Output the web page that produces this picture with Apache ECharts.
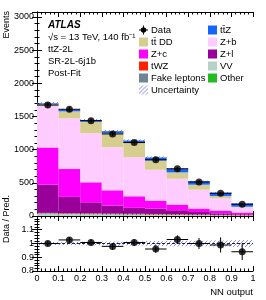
<!DOCTYPE html>
<html><head><meta charset="utf-8">
<script src="https://cdn.jsdelivr.net/npm/echarts@6/dist/echarts.min.js"></script>
<style>html,body{margin:0;padding:0;background:#fff}#c{width:266px;height:300px}</style>
</head><body><div id="c"></div>
<script>
// ---- data ----
const binLow  = [0.0, 0.1, 0.2, 0.3, 0.4, 0.5, 0.6, 0.7, 0.8, 0.9];
const binHigh = [0.1, 0.2, 0.3, 0.4, 0.5, 0.6, 0.7, 0.8, 0.9, 1.0];
const categories = ['0-0.1','0.1-0.2','0.2-0.3','0.3-0.4','0.4-0.5','0.5-0.6','0.6-0.7','0.7-0.8','0.8-0.9','0.9-1'];
const VV    = [35, 30, 28, 25, 22, 20, 17, 14, 10, 7];
const Other = [4, 4, 4, 3, 3, 3, 3, 2, 2, 2];
const Fake  = [4, 4, 3, 3, 3, 2, 2, 2, 1, 1];
const tWZ   = [4, 5, 6, 6, 6, 6, 6, 6, 5, 5];
const Zl    = [425, 245, 166, 121, 89, 81, 59, 36, 22, 10];
const Zc    = [560, 420, 300, 229, 174, 120, 85, 52, 42, 27];
const Zb    = [630, 765, 741, 651, 591, 465, 390, 285, 185, 80];
const ttDD  = [21, 105, 172, 210, 219, 140, 95, 75, 35, 8];
const ttZ   = [15, 20, 25, 30, 30, 45, 50, 50, 50, 50];
const dataVals = [1672, 1608, 1437, 1237, 1107, 847, 712, 513, 342, 177];
const dataErr  = [41, 40, 38, 35, 33, 29, 27, 23, 18, 13];
const ratioVals = [1.000, 1.026, 1.007, 0.979, 1.007, 0.960, 1.029, 1.000, 0.989, 0.940];
const ratioErr  = [0.020, 0.020, 0.022, 0.024, 0.025, 0.027, 0.030, 0.040, 0.055, 0.060];
const relUnc    = [0.012, 0.012, 0.013, 0.014, 0.015, 0.018, 0.020, 0.020, 0.022, 0.025];
const yTicksMain = [0, 500, 1000, 1500, 2000, 2500, 3000];
const yTicksRatio = [0.8, 0.9, 1, 1.1];

// ---- helpers ----
const FONT = 'Liberation Sans, Arial, Helvetica, sans-serif';
function hatch(){
  const c = document.createElement('canvas'); c.width = 4; c.height = 4;
  const g = c.getContext('2d');
  g.strokeStyle = 'rgba(80,80,255,0.85)'; g.lineWidth = 0.8;
  g.beginPath(); g.moveTo(0,4); g.lineTo(4,0); g.moveTo(-1,1); g.lineTo(1,-1); g.moveTo(3,5); g.lineTo(5,3); g.stroke();
  return {image: c, repeat: 'repeat'};
}
const pat = hatch();
const series = [];
const comps = [
  ['VV', VV, '#b5d2c8'], ['Other', Other, '#22bb22'], ['Fake leptons', Fake, '#6f8596'],
  ['tWZ', tWZ, '#ff2200'], ['Z+l', Zl, '#990099'], ['Z+c', Zc, '#ff00ff'],
  ['Z+b', Zb, '#ffccff'], ['tt\u0304 DD', ttDD, '#d5ce8e'], ['tt\u0304Z', ttZ, '#1464ff']
];
comps.forEach(c => series.push({
  name: c[0], type: 'bar', stack: 'bkg', data: c[1], xAxisIndex: 0, yAxisIndex: 0,
  barWidth: '100%', barCategoryGap: '0%', itemStyle: {color: c[2]}, silent: true, z: 2
}));
const total = categories.map((_, i) => comps.reduce((s, c) => s + c[1][i], 0));

function bandRender(params, api){
  const p0 = api.coord([api.value(0), api.value(3)]);
  const p1 = api.coord([api.value(1), api.value(2)]);
  return {type: 'rect', shape: {x: p0[0], y: p0[1], width: p1[0]-p0[0], height: p1[1]-p0[1]},
          style: {fill: pat}};
}
function errRender(params, api){
  const xl = api.value(0), xh = api.value(1), y = api.value(2), e = api.value(3);
  const xc = (xl + xh) / 2;
  const a = api.coord([xl, y]), b = api.coord([xh, y]);
  const c = api.coord([xc, y - e]), d = api.coord([xc, y + e]);
  const st = {stroke: '#000', lineWidth: 1};
  return {type: 'group', children: [
    {type: 'line', shape: {x1: a[0], y1: a[1], x2: b[0], y2: b[1]}, style: st},
    {type: 'line', shape: {x1: c[0], y1: c[1], x2: d[0], y2: d[1]}, style: st}
  ]};
}
series.push({
  name: 'Uncertainty', type: 'custom', xAxisIndex: 1, yAxisIndex: 0, renderItem: bandRender, z: 3, silent: true,
  itemStyle: {color: pat},
  data: binLow.map((l, i) => [l, binHigh[i], total[i]*(1-relUnc[i]), total[i]*(1+relUnc[i])])
});
series.push({
  name: 'Uncertainty', type: 'custom', xAxisIndex: 3, yAxisIndex: 2, renderItem: bandRender, z: 3, silent: true,
  itemStyle: {color: pat},
  data: binLow.map((l, i) => [l, binHigh[i], 1 - relUnc[i], 1 + relUnc[i]]),
  markLine: {silent: true, symbol: 'none', label: {show: false},
    lineStyle: {color: '#223', type: [3, 2], width: 1}, data: [{yAxis: 1}]}
});
series.push({
  name: 'Data', type: 'custom', xAxisIndex: 1, yAxisIndex: 0, renderItem: errRender, z: 5, silent: true,
  itemStyle: {color: '#000'},
  data: binLow.map((l, i) => [l, binHigh[i], dataVals[i], dataErr[i]])
});
series.push({
  name: 'Data', type: 'custom', xAxisIndex: 3, yAxisIndex: 2, renderItem: errRender, z: 5, silent: true,
  itemStyle: {color: '#000'},
  data: binLow.map((l, i) => [l, binHigh[i], ratioVals[i], ratioErr[i]])
});
series.push({
  name: 'Data', type: 'scatter', xAxisIndex: 1, yAxisIndex: 0, symbol: 'circle', symbolSize: 7, z: 6, silent: true,
  itemStyle: {color: '#000'},
  data: binLow.map((l, i) => [(l + binHigh[i]) / 2, dataVals[i]])
});
series.push({
  name: 'Data', type: 'scatter', xAxisIndex: 3, yAxisIndex: 2, symbol: 'circle', symbolSize: 7, z: 6, silent: true,
  itemStyle: {color: '#000'},
  data: binLow.map((l, i) => [(l + binHigh[i]) / 2, ratioVals[i]])
});

const lineS = {show: true, lineStyle: {color: '#000', width: 1}};
const tickS = {show: true, inside: true, length: 5, lineStyle: {color: '#000'}};
const minorS = {show: true, splitNumber: 5, length: 2.5, lineStyle: {color: '#000'}};
const lblS = {fontSize: 9, color: '#000', fontFamily: FONT};
function vx(grid, pos, labels){
  return {type: 'value', gridIndex: grid, position: pos, min: 0, max: 1, interval: 0.1,
    axisLine: lineS, axisTick: tickS, minorTick: minorS, splitLine: {show: false},
    axisLabel: labels ? Object.assign({show: true, margin: 3, formatter: v => String(+v.toFixed(1))}, lblS) : {show: false}};
}
const dataIcon = 'path://M0,4.5H10V5.5H0Z M4.5,0H5.5V10H4.5Z M8,5A3,3,0,1,1,2,5A3,3,0,1,1,8,5Z';
const legTxt = {fontSize: 9.5, fontFamily: FONT, color: '#000', lineHeight: 12, padding: [0, 0, 0, -2]};

const option = {
  animation: false,
  grid: [
    {left: 37, top: 12, width: 216, height: 204},
    {left: 37, top: 216, width: 216, height: 55}
  ],
  xAxis: [
    {type: 'category', gridIndex: 0, data: categories, show: false, boundaryGap: true},
    vx(0, 'bottom', false),
    vx(0, 'top', false),
    vx(1, 'bottom', true),
    vx(1, 'top', false)
  ],
  yAxis: [
    {type: 'value', gridIndex: 0, position: 'left', min: 0, max: 3075, interval: 500,
     axisLine: lineS, axisTick: tickS, minorTick: minorS, splitLine: {show: false},
     axisLabel: Object.assign({margin: 3, showMaxLabel: false,
       formatter: v => yTicksMain.indexOf(v) >= 0 ? String(v) : ''}, lblS)},
    {type: 'value', gridIndex: 0, position: 'right', min: 0, max: 3075, interval: 500,
     axisLine: lineS, axisTick: tickS, minorTick: minorS, splitLine: {show: false}, axisLabel: {show: false}},
    {type: 'value', gridIndex: 1, position: 'left', min: 0.8, max: 1.2, interval: 0.1,
     axisLine: lineS, axisTick: tickS, minorTick: minorS, splitLine: {show: false},
     axisLabel: Object.assign({margin: 3,
       formatter: v => { const r = +v.toFixed(1); return yTicksRatio.indexOf(r) >= 0 ? String(r) : ''; }}, lblS)},
    {type: 'value', gridIndex: 1, position: 'right', min: 0.8, max: 1.2, interval: 0.1,
     axisLine: lineS, axisTick: tickS, minorTick: minorS, splitLine: {show: false}, axisLabel: {show: false}}
  ],
  legend: [
    {orient: 'vertical', left: 134, top: 19, itemWidth: 9, itemHeight: 9, itemGap: 0, selectedMode: false,
     textStyle: legTxt, icon: 'rect',
     data: [{name: 'Data', icon: dataIcon, itemStyle: {color: '#000'}}, 'tt\u0304 DD', 'Z+c', 'tWZ', 'Fake leptons',
            {name: 'Uncertainty', itemStyle: {color: pat}}]},
    {orient: 'vertical', left: 203, top: 19, itemWidth: 9, itemHeight: 9, itemGap: 0, selectedMode: false,
     textStyle: legTxt, icon: 'rect',
     data: ['tt\u0304Z', 'Z+b', 'Z+l', 'VV', 'Other']}
  ],
  graphic: [
    {type: 'text', x: 48, y: 25, style: {text: 'ATLAS', font: 'italic bold 10px ' + FONT, fill: '#000', verticalAlign: 'middle'}},
    {type: 'text', x: 48, y: 37, style: {text: '\u221As = 13 TeV, 140 fb\u207B\u00B9', font: '9.5px ' + FONT, fill: '#000', verticalAlign: 'middle'}},
    {type: 'text', x: 48, y: 49, style: {text: 'ttZ-2L', font: '9.5px ' + FONT, fill: '#000', verticalAlign: 'middle'}},
    {type: 'text', x: 48, y: 61, style: {text: 'SR-2L-6j1b', font: '9.5px ' + FONT, fill: '#000', verticalAlign: 'middle'}},
    {type: 'text', x: 48, y: 73, style: {text: 'Post-Fit', font: '9.5px ' + FONT, fill: '#000', verticalAlign: 'middle'}},
    {type: 'text', x: 7, y: 11, rotation: Math.PI / 2, style: {text: 'Events', font: '9px ' + FONT, fill: '#000', align: 'right', verticalAlign: 'middle'}},
    {type: 'text', x: 7, y: 219, rotation: Math.PI / 2, style: {text: 'Data / Pred.', font: '9px ' + FONT, fill: '#000', align: 'center', verticalAlign: 'middle'}},
    {type: 'text', x: 253, y: 292, style: {text: 'NN output', font: '9.5px ' + FONT, fill: '#000', align: 'right', verticalAlign: 'middle'}}
  ],
  series: series
};
const chart = echarts.init(document.getElementById('c'), null, {renderer: 'canvas'});
chart.setOption(option);
</script></body></html>
